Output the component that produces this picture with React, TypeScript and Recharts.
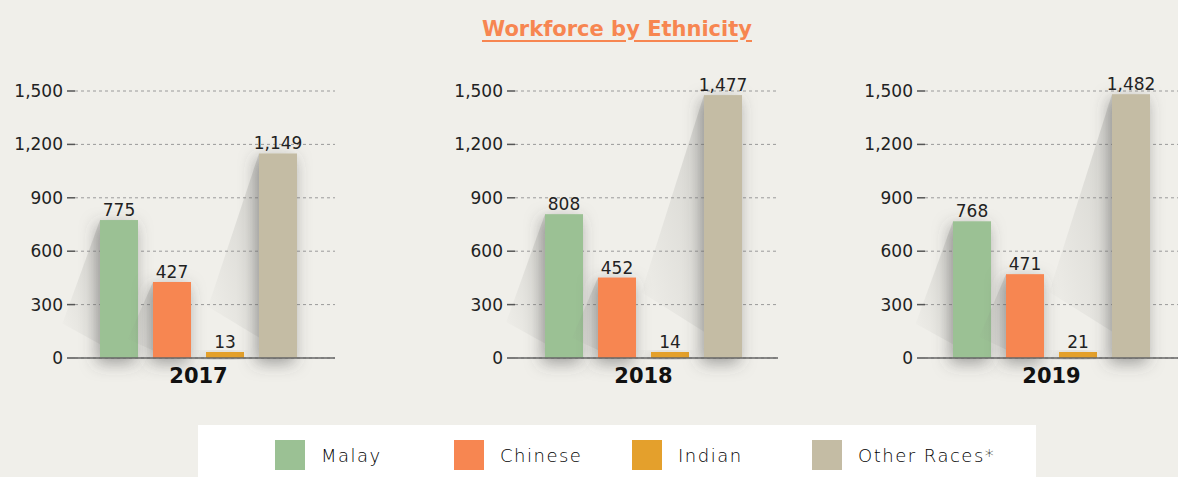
import React from 'react';
import { BarChart, Bar, XAxis, YAxis, CartesianGrid, LabelList } from 'recharts';

const years = ['2017', '2018', '2019'];
const malay = [775, 808, 768];
const chinese = [427, 452, 471];
const indian = [13, 14, 21];
const otherRaces = [1149, 1477, 1482];
const yTicks = [0, 300, 600, 900, 1200, 1500];

const series = [
    { key: 'malay', name: 'Malay', color: '#9bc194' },
    { key: 'chinese', name: 'Chinese', color: '#f78651' },
    { key: 'indian', name: 'Indian', color: '#e4a02c' },
    { key: 'other', name: 'Other Races*', color: '#c4bca4' },
];

const FONT = "'DejaVu Sans', sans-serif";

const panels = [
    { left: 0, width: 340, right: 5, padRight: 13 },
    { left: 440, width: 340, right: 2, padRight: 6 },
    { left: 850, width: 328, right: 0, padRight: 0 },
];

const fmt = (v: number) => v.toLocaleString('en-US');

// bar with a soft shadow and a faint diagonal light beam from its top-left corner
const ShadowBar = (props: any) => {
    const { x, y, width, height, fill } = props;
    if (!height) return null;
    const beam = height > 40;
    const dx = height * 0.2 + 10;
    return (
        <g>
            {beam && (
                <polygon
                    points={`${x},${y} ${x},${y + height * 0.9} ${x - dx},${y + height * 0.75}`}
                    fill="url(#beamGrad)"
                />
            )}
            <rect x={x} y={y} width={width} height={height} fill={fill} filter="url(#barShadow)" />
        </g>
    );
};

const Panel: React.FC<{ idx: number }> = ({ idx }) => {
    const p = panels[idx];
    const data = [{
        year: years[idx],
        malay: malay[idx],
        chinese: chinese[idx],
        indian: indian[idx],
        other: otherRaces[idx],
    }];
    return (
        <div style={{ position: 'absolute', left: p.left, top: 0 }}>
            <BarChart
                width={p.width}
                height={400}
                data={data}
                margin={{ top: 91, right: p.right, bottom: 12, left: 0 }}
                barSize={38}
                barGap={15}
            >
                <defs>
                    <filter id="barShadow" x="-80%" y="-20%" width="260%" height="150%">
                        <feDropShadow dx="-3" dy="5" stdDeviation="8" floodColor="#4a4a4a" floodOpacity="0.5" />
                    </filter>
                    <linearGradient id="beamGrad" x1="1" y1="0" x2="0" y2="1">
                        <stop offset="0%" stopColor="#8a8a86" stopOpacity={0.28} />
                        <stop offset="100%" stopColor="#8a8a86" stopOpacity={0} />
                    </linearGradient>
                </defs>
                <CartesianGrid vertical={false} stroke="#9a9a9a" strokeDasharray="3 3" />
                <XAxis
                    dataKey="year"
                    height={30}
                    padding={{ left: 0, right: p.padRight }}
                    axisLine={{ stroke: '#666', strokeWidth: 1.5 }}
                    tickLine={false}
                    tickSize={8}
                    tick={{ fill: '#111', fontSize: 21, fontWeight: 700, fontFamily: FONT }}
                />
                <YAxis
                    width={75}
                    domain={[0, 1500]}
                    ticks={yTicks}
                    interval={0}
                    axisLine={false}
                    tickLine={{ stroke: '#555', strokeWidth: 1.5 }}
                    tickSize={8}
                    tickMargin={4}
                    tickFormatter={fmt}
                    tick={{ fill: '#222', fontSize: 17, fontFamily: FONT }}
                />
                {series.map((s) => (
                    <Bar
                        key={s.key}
                        dataKey={s.key}
                        fill={s.color}
                        minPointSize={6}
                        isAnimationActive={false}
                        shape={<ShadowBar />}
                    >
                        <LabelList
                            dataKey={s.key}
                            position="top"
                            offset={4}
                            formatter={(v: any) => fmt(Number(v))}
                            style={{ fill: '#222', fontSize: 17, fontFamily: FONT }}
                        />
                    </Bar>
                ))}
            </BarChart>
        </div>
    );
};

const legendX = [275, 454, 632, 812];

export default function App() {
    return (
        <div style={{ position: 'absolute', left: 0, top: 0, width: 1178, height: 477, background: '#f0efea', overflow: 'hidden', fontFamily: FONT }}>
            <div style={{ position: 'absolute', left: 617, top: 17, transform: 'translateX(-50%)', whiteSpace: 'nowrap' }}>
                <span style={{ color: '#f78651', fontSize: 21, fontWeight: 700, textDecoration: 'underline', textUnderlineOffset: 4 }}>
                    Workforce by Ethnicity
                </span>
            </div>
            {panels.map((_, i) => <Panel key={i} idx={i} />)}
            <div style={{ position: 'absolute', left: 198, top: 425, width: 838, height: 60, background: '#ffffff' }}>
                {series.map((s, i) => (
                    <div key={s.key} style={{ position: 'absolute', left: legendX[i] - 198, top: 15, display: 'flex', alignItems: 'center' }}>
                        <div style={{ width: 30, height: 30, background: s.color }} />
                        <span style={{ marginLeft: 16, fontSize: 18, color: '#000', fontWeight: 200, letterSpacing: 1.5 }}>{s.name}</span>
                    </div>
                ))}
            </div>
        </div>
    );
}
